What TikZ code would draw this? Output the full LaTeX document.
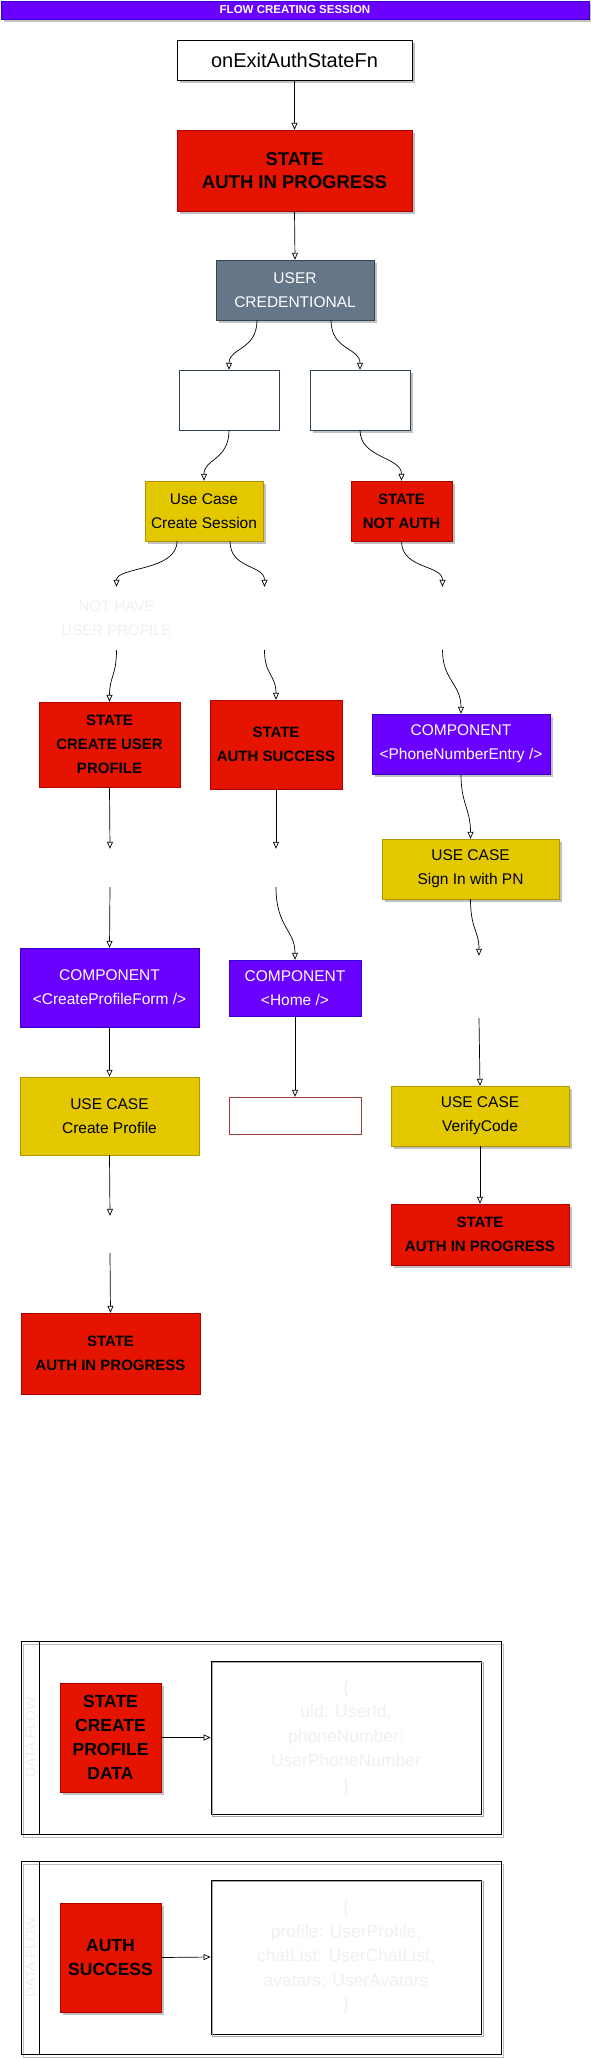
\documentclass[tikz,border=0pt]{standalone}
\usepackage{fontspec}
\setmainfont{Liberation Sans}
\usetikzlibrary{arrows.meta,shadows}

\definecolor{stateRed}{HTML}{E51400}
\definecolor{stateRedLine}{HTML}{B20000}
\definecolor{caseYellow}{HTML}{E3C800}
\definecolor{caseYellowLine}{HTML}{B09500}
\definecolor{compViolet}{HTML}{6A00FF}
\definecolor{compVioletLine}{HTML}{3700CC}
\definecolor{credSlate}{HTML}{647687}
\definecolor{credSlateLine}{HTML}{314354}
\definecolor{ghostText}{HTML}{F0F0F0}
\definecolor{homeLine}{HTML}{A33B3B}

\tikzset{
  box/.style={draw, inner sep=0pt, align=center, font=\fontsize{15.5}{24}\selectfont},
  shade/.style={drop shadow={shadow xshift=2.5pt, shadow yshift=-2.5pt, fill=black!30, opacity=.8}},
  statebox/.style={box, fill=stateRed, draw=stateRedLine, text=black,
    font=\fontsize{15}{24}\selectfont\bfseries},
  casebox/.style={box, fill=caseYellow, draw=caseYellowLine, text=black},
  compbox/.style={box, fill=compViolet, draw=compVioletLine, text=white},
  gap/.style={inner sep=0pt, minimum width=10pt, align=center,
    font=\fontsize{15}{24}\selectfont, text=ghostText},
  lane/.style={draw, line width=.8pt, inner sep=0pt},
  flow/.style={-{Triangle[open,length=7pt,width=6pt]}, line width=.7pt},
}

\begin{document}
\begin{tikzpicture}[x=1pt,y=-1pt]
\fill[white] (0,0) rectangle (591,2059);
\useasboundingbox (0,0) rectangle (591,2059);

% title
\node[box, shade, fill=compViolet, draw=compVioletLine, text=white, minimum width=588, minimum height=18,
  font=\fontsize{11.5}{12}\selectfont\bfseries] (title) at (295,10) {FLOW CREATING SESSION};

% main flow
\node[box, shade, fill=white, minimum width=235, minimum height=40,
  font=\fontsize{20}{22}\selectfont] (onExit) at (294.5,60) {onExitAuthStateFn};
\node[statebox, shade, minimum width=235, minimum height=81,
  font=\fontsize{18.5}{23}\selectfont\bfseries] (authProg) at (294.5,170.5) {STATE\\AUTH IN PROGRESS};
\node[box, shade, fill=credSlate, draw=credSlateLine, text=white, minimum width=158, minimum height=60]
  (cred) at (295,290) {USER\\CREDENTIONAL};
\node[box, fill=white, draw=credSlateLine, minimum width=100, minimum height=60] (emptyL) at (229,400) {};
\node[box, shade, fill=white, draw=credSlateLine, minimum width=100, minimum height=60] (emptyR) at (360,400) {};

\node[casebox, shade, minimum width=118, minimum height=60] (useCase) at (204,511) {Use Case\\Create Session};
\node[statebox, shade, minimum width=101, minimum height=60] (notAuth) at (401.5,511) {STATE\\NOT AUTH};

\node[gap, minimum height=63] (gapL) at (116.5,618.5) {NOT HAVE\\USER PROFILE};
\node[gap, minimum height=63] (gapM) at (264.5,618.5) {};
\node[gap, minimum height=63] (gapR) at (442.5,618.5) {};

\node[statebox, minimum width=141, minimum height=85] (createUser) at (109.5,744.5) {STATE\\CREATE USER\\PROFILE};
\node[statebox, minimum width=132, minimum height=89] (authOk) at (276,744.5) {STATE\\AUTH SUCCESS};
\node[compbox, shade, minimum width=178, minimum height=60] (phoneEntry) at (461,744) {COMPONENT\\<PhoneNumberEntry />};
\node[casebox, shade, minimum width=177, minimum height=60] (signIn) at (470.5,869) {USE CASE\\Sign In with PN};

\node[gap, minimum height=38] (gapTwoL) at (110,868) {};
\node[gap, minimum height=38] (gapTwoM) at (276,868) {};
\node[gap, minimum height=62] (gapTwoR) at (479,987) {};

\node[compbox, minimum width=179, minimum height=79] (profileForm) at (109.5,987.5) {COMPONENT\\<CreateProfileForm />};
\node[compbox, minimum width=132, minimum height=56] (home) at (295,988) {COMPONENT\\<Home />};

\node[casebox, minimum width=179, minimum height=78] (createProfile) at (109.5,1116) {USE CASE\\Create Profile};
\node[box, draw=homeLine, minimum width=132, minimum height=37] (homeNext) at (295,1115.5) {};
\node[casebox, shade, minimum width=178, minimum height=60] (verify) at (480,1116) {USE CASE\\VerifyCode};

\node[gap, minimum height=37] (gapThreeL) at (110,1234.5) {};

\node[statebox, minimum width=179, minimum height=81] (progL) at (110.5,1353.5) {STATE\\AUTH IN PROGRESS};
\node[statebox, shade, minimum width=178, minimum height=61] (progR) at (480,1234.5) {STATE\\AUTH IN PROGRESS};

% connectors
\draw[flow] (onExit.south) -- (authProg.north);
\draw[flow] (authProg.south) -- (cred.north);
\draw[flow] ([xshift=-38pt]cred.south) .. controls +(0,30) and +(0,-22) .. (emptyL.north);
\draw[flow] ([xshift=36pt]cred.south) .. controls +(0,30) and +(0,-22) .. (emptyR.north);
\draw[flow] (emptyL.south) .. controls +(0,30) and +(0,-22) .. (useCase.north);
\draw[flow] (emptyR.south) .. controls +(0,28) and +(0,-24) .. (notAuth.north);
\draw[flow] ([xshift=-27pt]useCase.south) .. controls +(0,30) and +(0,-20) .. (gapL.north);
\draw[flow] ([xshift=26pt]useCase.south) .. controls +(0,28) and +(0,-22) .. (gapM.north);
\draw[flow] (notAuth.south) .. controls +(0,28) and +(0,-22) .. (gapR.north);
\draw[flow] (gapL.south) .. controls +(0,25) and +(0,-25) .. (createUser.north);
\draw[flow] (gapM.south) .. controls +(0,25) and +(0,-25) .. (authOk.north);
\draw[flow] (gapR.south) .. controls +(0,30) and +(0,-30) .. (phoneEntry.north);
\draw[flow] (createUser.south) -- (gapTwoL.north);
\draw[flow] (authOk.south) -- (gapTwoM.north);
\draw[flow] (phoneEntry.south) .. controls +(0,30) and +(0,-30) .. (signIn.north);
\draw[flow] (gapTwoL.south) -- (profileForm.north);
\draw[flow] (gapTwoM.south) .. controls +(0,40) and +(0,-30) .. (home.north);
\draw[flow] (signIn.south) .. controls +(0,30) and +(0,-25) .. (gapTwoR.north);
\draw[flow] (gapTwoR.south) -- (verify.north);
\draw[flow] (profileForm.south) -- (createProfile.north);
\draw[flow] (home.south) -- (homeNext.north);
\draw[flow] (createProfile.south) -- (gapThreeL.north);
\draw[flow] (gapThreeL.south) -- (progL.north);
\draw[flow] (verify.south) -- (progR.north);

% data flow lanes
\foreach \ly/\lname in {1737.5/laneOne, 1957.5/laneTwo} {
  \draw[black!25, line width=.8pt] (23,\ly-93.5) rectangle (503,\ly+99.5);
  \node[lane, minimum width=480, minimum height=193] (\lname) at (261,\ly) {};
  \draw[line width=.8pt] ([xshift=19pt]\lname.north west) -- ([xshift=19pt]\lname.south west);
  \node[rotate=90, text=ghostText, font=\fontsize{14}{15}\selectfont] at (30.5,\ly) {DATA FLOW};
}

\node[statebox, shade, minimum width=101, minimum height=109, font=\fontsize{17.5}{24}\selectfont\bfseries]
  (dataProf) at (110.5,1737.5) {STATE\\CREATE\\PROFILE\\DATA};
\node[box, line width=.8pt, fill=white, minimum width=270, minimum height=153, text=ghostText,
  font=\fontsize{17.5}{24.5}\selectfont] (codeOne) at (346,1737.5)
  {\{\\uid: UserId,\\phoneNumber:\\UserPhoneNumber\\\}};
\draw[black!35] ([shift={(2,2)}]codeOne.north west) rectangle ([shift={(2,2)}]codeOne.south east);

\node[statebox, shade, minimum width=101, minimum height=109, font=\fontsize{17.5}{24}\selectfont\bfseries]
  (dataAuth) at (110.5,1957.5) {AUTH\\SUCCESS};
\node[box, line width=.8pt, fill=white, minimum width=270, minimum height=154, text=ghostText,
  font=\fontsize{17.5}{24.5}\selectfont] (codeTwo) at (346,1957)
  {\{\\profile: UserProfile,\\chatList: UserChatList,\\avatars: UserAvatars\\\}};
\draw[black!35] ([shift={(2,2)}]codeTwo.north west) rectangle ([shift={(2,2)}]codeTwo.south east);

\draw[flow] (dataProf.east) -- (codeOne.west);
\draw[flow] (dataAuth.east) -- (codeTwo.west);
\end{tikzpicture}
\end{document}
